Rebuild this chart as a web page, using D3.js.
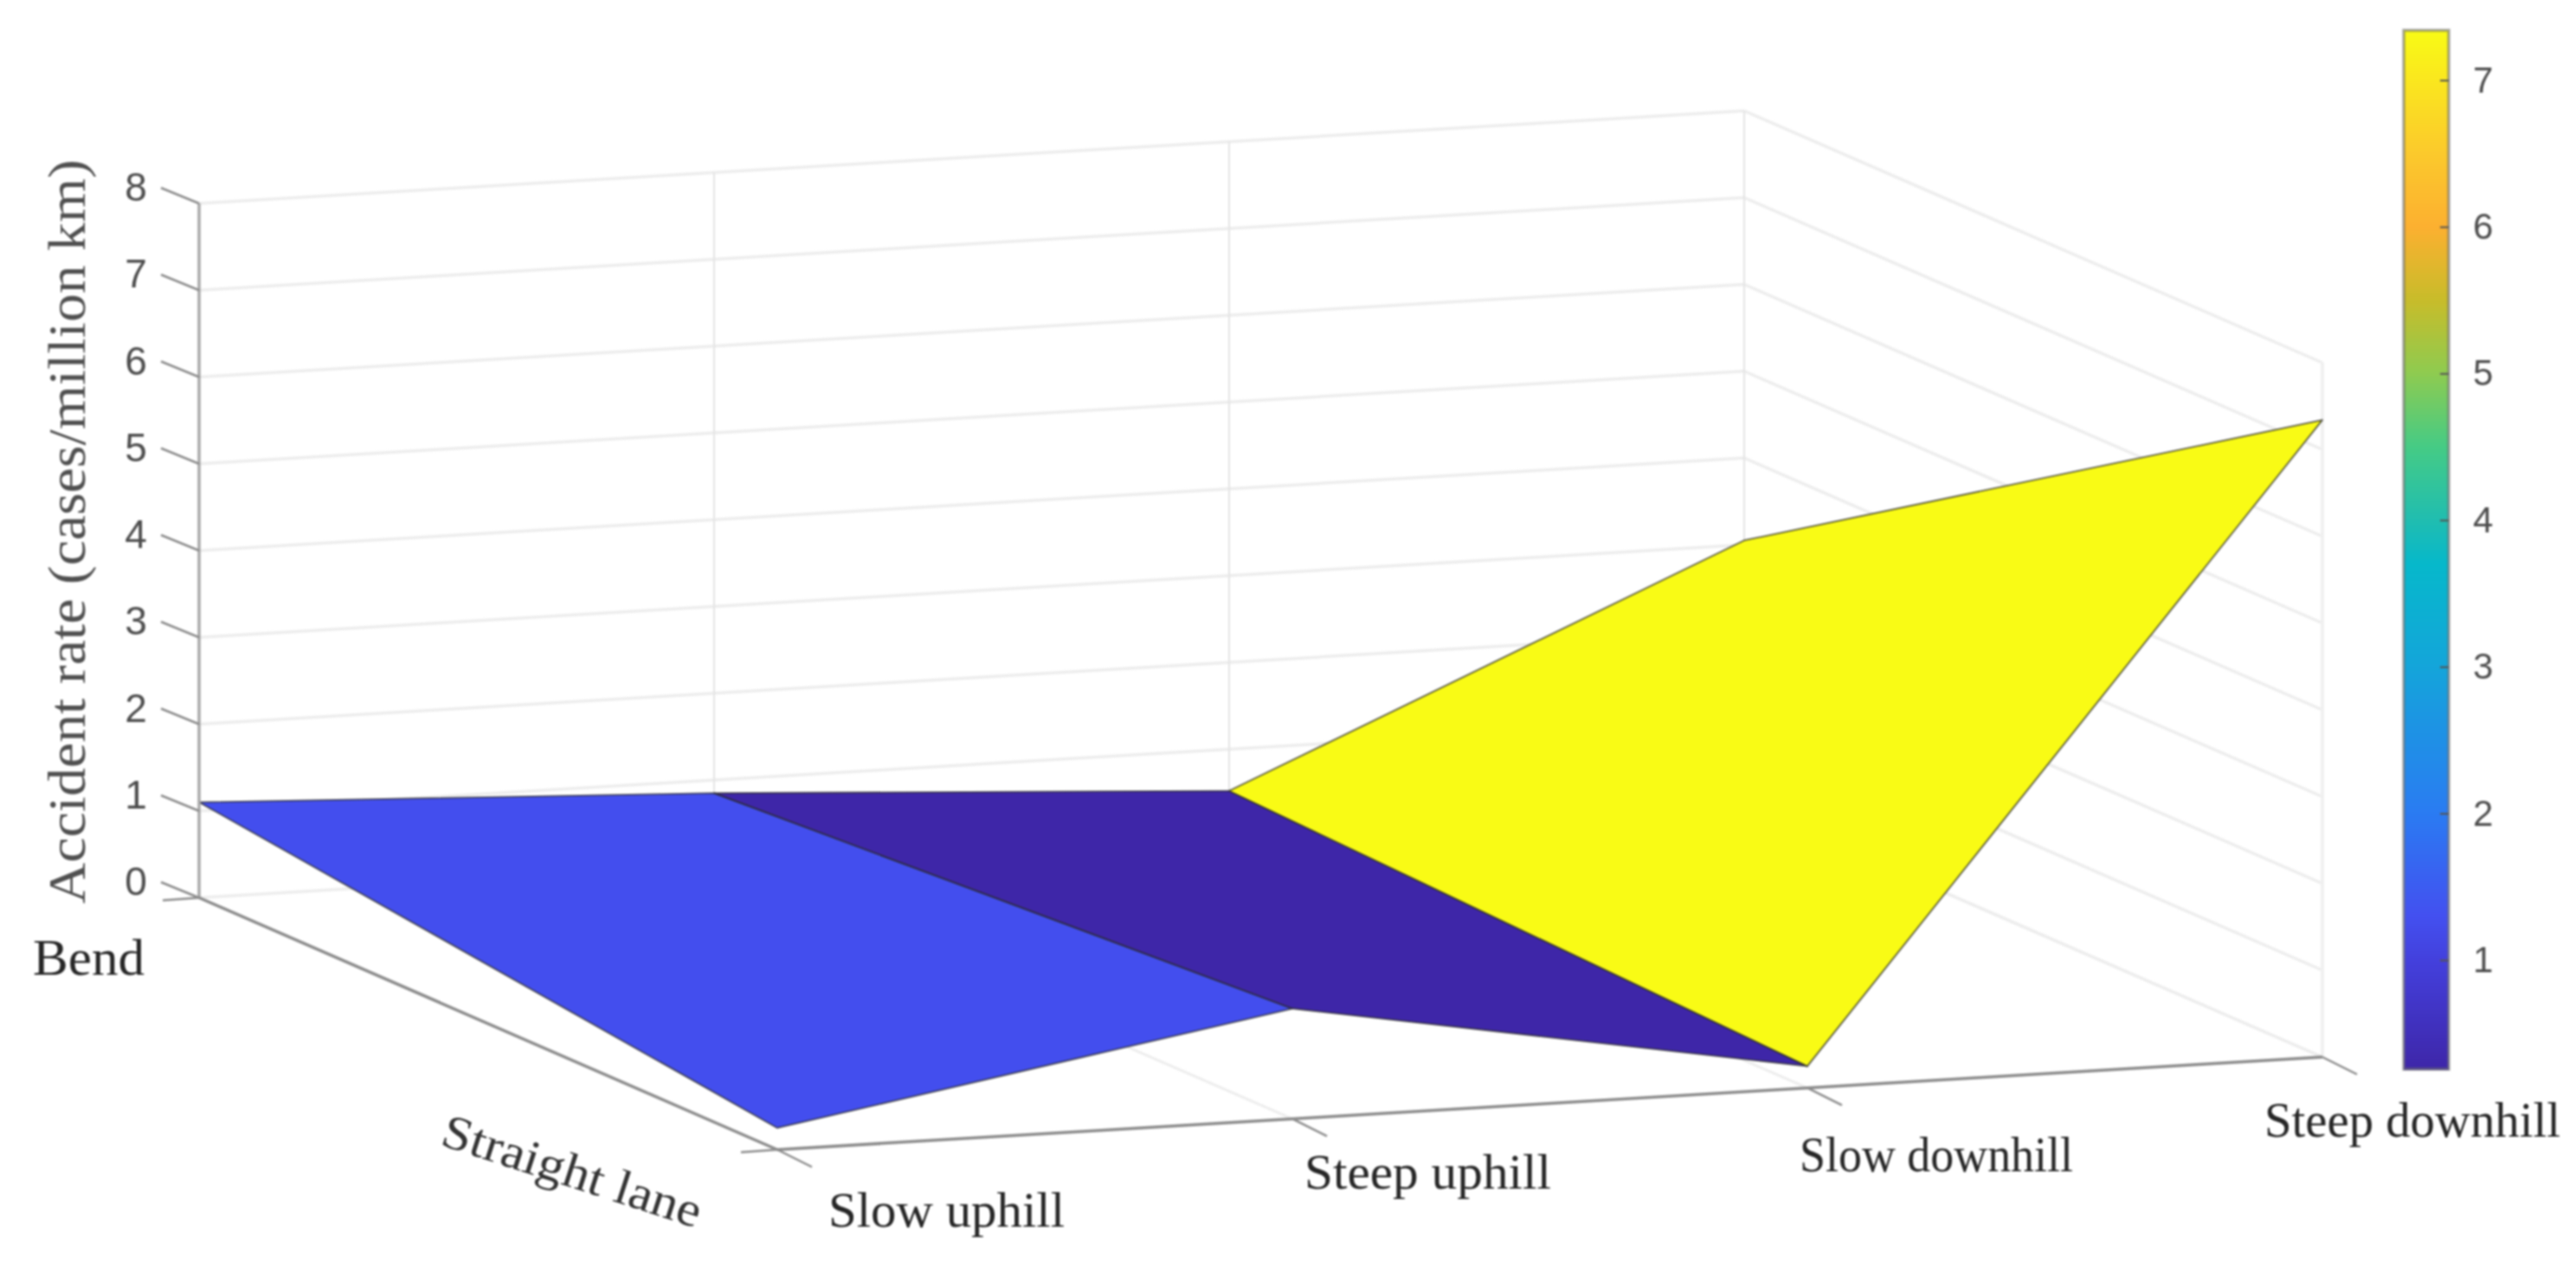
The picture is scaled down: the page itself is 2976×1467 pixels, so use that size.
<!DOCTYPE html>
<html>
<head>
<meta charset="utf-8">
<script src="https://cdnjs.cloudflare.com/ajax/libs/d3/7.8.5/d3.min.js"></script>
<style>
  html, body { margin: 0; padding: 0; background: #fff; }
  svg { display: block; filter: blur(0.8px); }
</style>
</head>
<body>
<div id="chart"></div>
<script>
const roadTypes = ['Slow uphill', 'Steep uphill', 'Slow downhill', 'Steep downhill'];
const roadShapes = ['Bend', 'Straight lane'];
const bendRates = [1.1, 0.85, 0.52, 3.05];
const straightRates = [0.25, 1.27, 0.25, 7.34];
const zTicks = [0, 1, 2, 3, 4, 5, 6, 7, 8];
const colorTicks = [1, 2, 3, 4, 5, 6, 7];
const colorValues = [0.25, 1, 1.3, 2, 3, 3.7, 4, 4.5, 5, 5.5, 6, 6.5, 7.34];
const colorHexes = ['#3e26a8', '#4340dd', '#4350f0', '#2a7bf2', '#14a5da', '#06b8cb', '#20bdb0',
  '#45cb85', '#8ecb50', '#c8bc2a', '#fcb030', '#fbc92c', '#f9fb15'];

const dimension = { width: 2976, height: 1467 };
const origin = { x: 230, y: 1037 };
const bar = { left: 2777, right: 2829, top: 35, bottom: 1235 };

const svg = d3.select('#chart')
  .append('svg')
  .attr('width', dimension.width)
  .attr('height', dimension.height);

// orthographic view, each data axis has a screen x and a screen y scale
const catX = d3.scaleLinear().domain([0, 3]).range([0, 1785]);
const catY = d3.scaleLinear().domain([0, 3]).range([0, -107]);
const shapeX = d3.scaleLinear().domain([0, 1]).range([0, 668]);
const shapeY = d3.scaleLinear().domain([0, 1]).range([0, 291]);
const zScale = d3.scaleLinear().domain([0, 8]).range([0, -802]);

const px = (c, s) => origin.x + catX(c) + shapeX(s);
const py = (c, s, z) => origin.y + catY(c) + shapeY(s) + zScale(z);
const pt = (c, s, z) => [px(c, s), py(c, s, z)];

const colorScale = d3.scaleLinear().domain(colorValues).range(colorHexes).interpolate(d3.interpolateRgb);
const line = d3.line();

const seg = (g, a, b, color, w) => g.append('path')
  .attr('d', line([a, b]))
  .attr('fill', 'none')
  .attr('stroke', color)
  .attr('stroke-width', w);

// grid
const grid = svg.append('g');
const gridColor = '#ededed';
zTicks.forEach(z => {
  seg(grid, pt(0, 0, z), pt(3, 0, z), gridColor, 3.5);
  seg(grid, pt(3, 0, z), pt(3, 1, z), gridColor, 3.5);
});
d3.range(1, 4).forEach(c => {
  seg(grid, pt(c, 0, 0), pt(c, 0, 8), '#e4e4e4', 2);
  seg(grid, pt(c, 0, 0), pt(c, 1, 0), gridColor, 3);
});
seg(grid, pt(3, 1, 0), pt(3, 1, 8), '#f0f0f0', 4);

// surface, one flat cell per road type step, coloured by its straight lane corner
const cells = d3.range(3).map(c => ({
  path: [pt(c, 0, bendRates[c]), pt(c + 1, 0, bendRates[c + 1]), pt(c + 1, 1, straightRates[c + 1]), pt(c, 1, straightRates[c])],
  value: straightRates[c + 1]
}));

svg.append('g')
  .selectAll('path')
  .data(cells)
  .join('path')
  .attr('d', d => line(d.path) + 'Z')
  .attr('fill', d => colorScale(d.value))
  .attr('stroke', '#2a2a2a')
  .attr('stroke-opacity', 0.75)
  .attr('stroke-width', 1.8)
  .attr('stroke-linejoin', 'round');

// axes
const axes = svg.append('g');
const axisColor = '#8c8c8c';
seg(axes, pt(0, 0, 0), pt(0, 0, 8), '#a8a8a8', 3.5);
seg(axes, pt(0, 0, 0), pt(0, 1, 0), axisColor, 3.5);
seg(axes, pt(0, 1, 0), pt(3, 1, 0), axisColor, 3.5);

zTicks.forEach(z => {
  const p = pt(0, 0, z);
  seg(axes, p, [p[0] - 44, p[1] - 18], axisColor, 2.5);
});
d3.range(4).forEach(c => {
  const p = pt(c, 1, 0);
  seg(axes, p, [p[0] + 40, p[1] + 20], axisColor, 2.5);
});
[0, 1].forEach(s => {
  const p = pt(0, s, 0);
  seg(axes, p, [p[0] - 42, p[1] + 3], axisColor, 2.5);
});

axes.selectAll('text.z')
  .data(zTicks)
  .join('text')
  .attr('class', 'z')
  .attr('x', d => px(0, 0) - 73)
  .attr('y', d => py(0, 0, d) - 3)
  .attr('text-anchor', 'middle')
  .attr('font-family', '"Liberation Sans"')
  .attr('font-size', 46)
  .attr('fill', '#4d4d4d')
  .text(d => d);

// axis titles and category labels, the picture has them hand placed
const serif = '"Liberation Serif"';
const labelPlace = [[957, 1417, 273], [1507, 1373, 285], [2079, 1353, 316], [2616, 1313, 342]];

svg.append('g')
  .selectAll('text')
  .data(roadTypes)
  .join('text')
  .attr('x', (d, i) => labelPlace[i][0])
  .attr('y', (d, i) => labelPlace[i][1])
  .attr('textLength', (d, i) => labelPlace[i][2])
  .attr('lengthAdjust', 'spacingAndGlyphs')
  .attr('font-family', serif)
  .attr('font-size', 58)
  .attr('fill', '#262626')
  .text(d => d);

svg.append('text')
  .attr('x', 38).attr('y', 1126)
  .attr('textLength', 129).attr('lengthAdjust', 'spacingAndGlyphs')
  .attr('font-family', serif).attr('font-size', 60).attr('fill', '#262626')
  .text(roadShapes[0]);

svg.append('text')
  .attr('transform', 'translate(507,1322) rotate(18)')
  .attr('textLength', 312).attr('lengthAdjust', 'spacingAndGlyphs')
  .attr('font-family', serif).attr('font-size', 56).attr('fill', '#333')
  .text(roadShapes[1]);

svg.append('text')
  .attr('transform', 'translate(98,1044) rotate(-90)')
  .attr('textLength', 860).attr('lengthAdjust', 'spacingAndGlyphs')
  .attr('font-family', serif).attr('font-size', 62).attr('fill', '#505050')
  .text('Accident rate (cases/million km)');

// colour bar
const barScale = d3.scaleLinear().domain([0.256, 7.34]).range([bar.bottom, bar.top]);
const barSteps = d3.range(bar.top, bar.bottom, 4);

svg.append('g')
  .selectAll('rect')
  .data(barSteps)
  .join('rect')
  .attr('x', bar.left)
  .attr('y', d => d)
  .attr('width', bar.right - bar.left)
  .attr('height', 5)
  .attr('fill', d => colorScale(barScale.invert(d + 2)));

svg.append('rect')
  .attr('x', bar.left).attr('y', bar.top)
  .attr('width', bar.right - bar.left).attr('height', bar.bottom - bar.top)
  .attr('fill', 'none')
  .attr('stroke', '#6e6e6e')
  .attr('stroke-opacity', 0.6)
  .attr('stroke-width', 3.5);

const barAxis = svg.append('g')
  .attr('transform', `translate(${bar.right},0)`)
  .call(d3.axisRight(barScale).tickValues(colorTicks).tickSize(-10).tickPadding(28));

barAxis.select('.domain').remove();
barAxis.selectAll('line').attr('stroke', '#555').attr('stroke-width', 2);
barAxis.selectAll('text')
  .attr('font-family', '"Liberation Sans"')
  .attr('font-size', 42)
  .attr('fill', '#4d4d4d');
</script>
</body>
</html>
